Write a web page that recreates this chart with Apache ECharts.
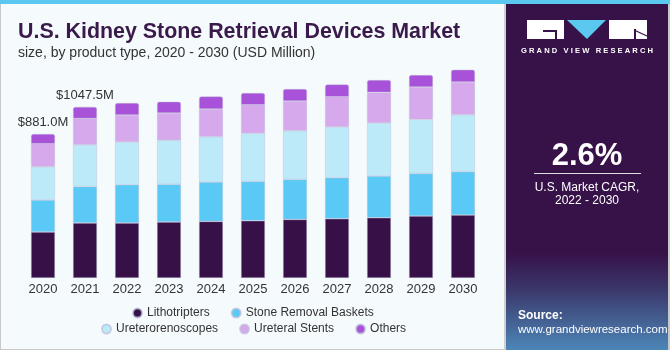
<!DOCTYPE html>
<html>
<head>
<meta charset="utf-8">
<script src="https://cdn.jsdelivr.net/npm/echarts@6/dist/echarts.min.js"></script>
<style>
  html, body { margin: 0; padding: 0; background: #f5fafd; }
  #main { width: 670px; height: 350px; }
</style>
</head>
<body>
<div id="main"></div>
<script>
  // 数据
  var years = ['2020', '2021', '2022', '2023', '2024', '2025', '2026', '2027', '2028', '2029', '2030']
  var lithotripters = [281.5, 337.0, 336.6, 342.7, 346.4, 350.7, 358.6, 362.9, 369.0, 379.4, 385.6]
  var baskets = [195.8, 222.5, 234.4, 230.7, 241.1, 240.5, 244.8, 250.9, 255.2, 260.7, 265.0]
  var ureteroscopes = [203.7, 255.5, 261.3, 269.3, 277.2, 293.8, 298.0, 310.3, 324.4, 330.5, 348.8]
  var stents = [140.8, 161.0, 165.2, 167.1, 169.5, 175.6, 181.8, 185.4, 187.3, 198.3, 200.1]
  var others = [59.2, 71.5, 73.4, 69.2, 77.1, 71.6, 73.4, 75.3, 75.9, 73.4, 75.3]
  var labelledYears = ['2020', '2021']

  var names = ['Lithotripters', 'Stone Removal Baskets', 'Ureterorenoscopes', 'Ureteral Stents', 'Others']
  var colors = ['#371047', '#5bc9f5', '#bdeaf9', '#d5a9ec', '#a752d8']
  var values = [lithotripters, baskets, ureteroscopes, stents, others]

  var totals = years.map(function (y, i) {
    return values.reduce(function (s, arr) { return s + arr[i] }, 0)
  })

  var series = names.map(function (name, k) {
    var s = {
      name: name,
      type: 'bar',
      stack: 'total',
      barWidth: 24,
      itemStyle: {
        color: colors[k],
        borderColor: 'rgba(190,190,215,0.7)',
        borderWidth: 0.6
      },
      emphasis: {disabled: true},
      data: values[k].slice()
    }
    if (k === names.length - 1) {
      s.itemStyle.borderRadius = [2, 2, 0, 0]
      s.data = values[k].map(function (v, i) {
        if (labelledYears.indexOf(years[i]) < 0) return v
        return {
          value: v,
          label: {
            show: true,
            position: 'top',
            distance: 5,
            color: '#333',
            fontSize: 13,
            fontFamily: 'Liberation Sans',
            formatter: function () { return '$' + totals[i].toFixed(1) + 'M' }
          }
        }
      })
    }
    return s
  })

  var legendText = {color: '#333', fontSize: 12, fontFamily: 'Liberation Sans'}

  var chart = echarts.init(document.getElementById('main'))
  chart.setOption({
    backgroundColor: '#f5fafd',
    animation: false,
    title: {
      text: 'U.S. Kidney Stone Retrieval Devices Market',
      subtext: 'size, by product type, 2020 - 2030 (USD Million)',
      left: 13,
      top: 17,
      itemGap: 3,
      textStyle: {
        fontFamily: 'Liberation Sans',
        fontWeight: 'bold',
        fontSize: 21.4,
        color: '#3a1a4b'
      },
      subtextStyle: {
        fontFamily: 'Liberation Sans',
        fontSize: 14,
        color: '#333'
      }
    },
    grid: {
      left: 22,
      width: 462,
      top: 70,
      bottom: 72
    },
    xAxis: {
      type: 'category',
      data: years,
      axisLine: {show: false},
      axisTick: {show: false},
      axisLabel: {
        color: '#333',
        fontSize: 13,
        fontFamily: 'Liberation Sans',
        margin: 5
      }
    },
    yAxis: {
      type: 'value',
      min: 0,
      max: 1273,
      show: false
    },
    legend: [
      {
        data: names.slice(0, 2),
        left: 127,
        top: 302,
        icon: 'circle',
        itemWidth: 9,
        itemHeight: 9,
        itemGap: 21,
        textStyle: legendText,
        selectedMode: false
      },
      {
        data: names.slice(2),
        left: 96,
        top: 318,
        icon: 'circle',
        itemWidth: 9,
        itemHeight: 9,
        itemGap: 21,
        textStyle: legendText,
        selectedMode: false
      }
    ],
    series: series,
    graphic: [
      // 顶部条和边框
      {type: 'rect', shape: {x: 0, y: 0, width: 670, height: 4}, style: {fill: '#5bc8f0'}, z: 10},
      {type: 'rect', shape: {x: 0, y: 4, width: 1, height: 346}, style: {fill: '#c8c8c8'}, z: 10},
      {type: 'rect', shape: {x: 0, y: 349, width: 506, height: 1}, style: {fill: '#c8c8c8'}, z: 10},
      {type: 'rect', shape: {x: 504, y: 4, width: 2, height: 346}, style: {fill: '#d0d0d0'}, z: 10},
      // 右侧面板
      {
        type: 'rect',
        shape: {x: 506, y: 4, width: 164, height: 346},
        style: {
          fill: new echarts.graphic.LinearGradient(0, 0, 0, 1, [
            {offset: 0, color: '#371249'},
            {offset: 0.72, color: '#371249'},
            {offset: 0.82, color: '#3a3568'},
            {offset: 1, color: '#4d86b8'}
          ])
        },
        z: 10
      },
      {type: 'rect', shape: {x: 668, y: 4, width: 2, height: 346}, style: {fill: '#c8c8c8'}, z: 11},
      // logo
      {type: 'rect', shape: {x: 527, y: 20, width: 37, height: 19}, style: {fill: '#fff'}, z: 11},
      {type: 'rect', shape: {x: 543, y: 30, width: 14, height: 2}, style: {fill: '#371249'}, z: 12},
      {type: 'rect', shape: {x: 555, y: 30, width: 2, height: 9}, style: {fill: '#371249'}, z: 12},
      {type: 'polygon', shape: {points: [[567, 20], [606, 20], [587, 39]]}, style: {fill: '#5bc8f0'}, z: 11},
      {type: 'rect', shape: {x: 609, y: 20, width: 38, height: 19}, style: {fill: '#fff'}, z: 11},
      {type: 'line', shape: {x1: 634, y1: 30, x2: 647, y2: 36}, style: {stroke: '#371249', lineWidth: 1.2}, z: 12},
      {type: 'rect', shape: {x: 634, y: 29, width: 2, height: 10}, style: {fill: '#371249'}, z: 12},
      {
        type: 'text', x: 587, y: 51, z: 12,
        style: {text: 'G R A N D   V I E W   R E S E A R C H', fill: '#fff', font: 'bold 7.6px "Liberation Sans"', textAlign: 'center', textVerticalAlign: 'middle'}
      },
      {
        type: 'text', x: 587, y: 156, z: 12,
        style: {text: '2.6%', fill: '#fff', font: 'bold 31px "Liberation Sans"', textAlign: 'center', textVerticalAlign: 'middle'}
      },
      {type: 'rect', shape: {x: 534, y: 173, width: 107, height: 1}, style: {fill: '#ddd'}, z: 12},
      {
        type: 'text', x: 587, y: 188, z: 12,
        style: {text: 'U.S. Market CAGR,', fill: '#fff', font: '12px "Liberation Sans"', textAlign: 'center', textVerticalAlign: 'middle'}
      },
      {
        type: 'text', x: 587, y: 201, z: 12,
        style: {text: '2022 - 2030', fill: '#fff', font: '12px "Liberation Sans"', textAlign: 'center', textVerticalAlign: 'middle'}
      },
      {
        type: 'text', x: 518, y: 316, z: 12,
        style: {text: 'Source:', fill: '#fff', font: 'bold 12px "Liberation Sans"', textVerticalAlign: 'middle'}
      },
      {
        type: 'text', x: 518, y: 330, z: 12,
        style: {text: 'www.grandviewresearch.com', fill: '#fff', font: '11.5px "Liberation Sans"', textVerticalAlign: 'middle'}
      }
    ]
  })
</script>
</body>
</html>
